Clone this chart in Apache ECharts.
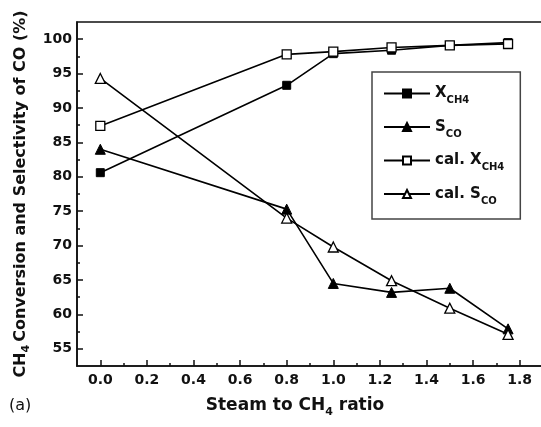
<!DOCTYPE html>
<html>
<head>
<meta charset="utf-8">
<script src="https://cdn.jsdelivr.net/npm/echarts@6/dist/echarts.min.js"></script>
<style>
  html, body { margin: 0; padding: 0; background: #fff; }
  #chart { width: 541px; height: 427px; }
</style>
</head>
<body>
<div id="chart"></div>
<script>
// steam to CH4 ratio (x)
var ratios = [0, 0.8, 1.0, 1.25, 1.5, 1.75];
// measured and calculated values (%)
var xCH4 = [80.6, 93.3, 97.9, 98.4, 99.1, 99.5];
var sCO = [84.0, 75.3, 64.5, 63.2, 63.8, 57.9];
var calXCH4 = [87.4, 97.8, 98.2, 98.8, 99.1, 99.3];
var calSCO = [94.3, 74.0, 69.8, 64.9, 60.9, 57.1];
// ticks
var xTicks = [0, 0.2, 0.4, 0.6, 0.8, 1.0, 1.2, 1.4, 1.6, 1.8];
var xMinorTicks = [0.1, 0.3, 0.5, 0.7, 0.9, 1.1, 1.3, 1.5, 1.7];
var yTicks = [55, 60, 65, 70, 75, 80, 85, 90, 95, 100];
var yMinorTicks = [57.5, 62.5, 67.5, 72.5, 77.5, 82.5, 87.5, 92.5, 97.5];

var FONT = 'DejaVu Sans';
var INK = '#111';

function pairs(ys) {
  return ys.map(function (y, i) { return [ratios[i], y]; });
}

// legend labels with subscripts
var legendText = {
  'X_CH4': '{m|X}{s|CH4}',
  'S_CO': '{m|S}{s|CO}',
  'cal. X_CH4': '{m|cal. X}{s|CH4}',
  'cal. S_CO': '{m|cal. S}{s|CO}'
};

var lineStyle = { color: '#000', width: 1.6 };
var filled = { color: '#000', borderColor: '#000', borderWidth: 1 };
var open = { color: '#fff', borderColor: '#000', borderWidth: 1.3 };

function mkSeries(name, ys, symbol, size, item) {
  return {
    name: name,
    type: 'line',
    data: pairs(ys),
    symbol: symbol,
    symbolSize: size,
    showAllSymbol: true,
    lineStyle: lineStyle,
    itemStyle: item,
    emphasis: { disabled: true },
    animation: false
  };
}

var chart = echarts.init(document.getElementById('chart'));
chart.setOption({
  backgroundColor: '#fff',
  animation: false,
  grid: {
    left: 77, top: 22, width: 466, height: 344,
    show: true, borderColor: '#111', borderWidth: 1.6,
    outerBoundsMode: 'none'
  },
  xAxis: [{
    type: 'value', min: -0.1, max: 1.9,
    splitLine: { show: false },
    axisLine: { onZero: false, lineStyle: { color: '#111', width: 1.6 } },
    axisTick: { inside: true, length: 6, customValues: xTicks, lineStyle: { color: '#111', width: 1.5 } },
    axisLabel: {
      customValues: xTicks, margin: 7,
      formatter: function (v) { return v.toFixed(1); },
      color: INK, fontFamily: FONT, fontWeight: 'bold', fontSize: 14
    },
    name: '{m|Steam to CH}{s|4}{m| ratio}',
    nameLocation: 'middle', nameGap: 28,
    nameTextStyle: {
      padding: [0, 30, 0, 0],
      rich: {
        m: { fontFamily: FONT, fontWeight: 'bold', fontSize: 17, color: INK, lineHeight: 24 },
        s: { fontFamily: FONT, fontWeight: 'bold', fontSize: 11, color: INK, lineHeight: 14, verticalAlign: 'bottom' }
      }
    }
  }, {
    type: 'value', min: -0.1, max: 1.9, position: 'bottom',
    splitLine: { show: false },
    axisLine: { show: false, onZero: false },
    axisLabel: { show: false },
    axisTick: { inside: true, length: 3, customValues: xMinorTicks, lineStyle: { color: '#111', width: 1.5 } }
  }],
  yAxis: [{
    type: 'value', min: 52.5, max: 102.5,
    splitLine: { show: false },
    axisLine: { onZero: false, lineStyle: { color: '#111', width: 1.6 } },
    axisTick: { inside: true, length: 6, customValues: yTicks, lineStyle: { color: '#111', width: 1.5 } },
    axisLabel: {
      customValues: yTicks, margin: 5,
      color: INK, fontFamily: FONT, fontWeight: 'bold', fontSize: 14
    },
    name: '{m|CH}{s|4}{m|Conversion and Selectivity of CO (%)}',
    nameLocation: 'middle', nameRotate: 90, nameGap: 44,
    nameTextStyle: {
      rich: {
        m: { fontFamily: FONT, fontWeight: 'bold', fontSize: 16, color: INK, lineHeight: 22 },
        s: { fontFamily: FONT, fontWeight: 'bold', fontSize: 11, color: INK, lineHeight: 13, verticalAlign: 'bottom', padding: [0, 3, 0, 0] }
      }
    }
  }, {
    type: 'value', min: 52.5, max: 102.5, position: 'left',
    splitLine: { show: false },
    axisLine: { show: false, onZero: false },
    axisLabel: { show: false },
    axisTick: { inside: true, length: 3, customValues: yMinorTicks, lineStyle: { color: '#111', width: 1.5 } }
  }],
  legend: {
    orient: 'vertical', left: 372, top: 72,
    padding: [14, 16, 13, 11], itemGap: 14,
    itemWidth: 46, itemHeight: 10,
    borderColor: '#444', borderWidth: 1.5,
    backgroundColor: '#fff',
    data: ['X_CH4', 'S_CO', 'cal. X_CH4', 'cal. S_CO'],
    formatter: function (n) { return legendText[n]; },
    textStyle: {
      rich: {
        m: { fontFamily: FONT, fontWeight: 'bold', fontSize: 15, color: INK, lineHeight: 24 },
        s: { fontFamily: FONT, fontWeight: 'bold', fontSize: 10, color: INK, lineHeight: 14, verticalAlign: 'bottom' }
      }
    }
  },
  graphic: [{
    type: 'text', left: 9, top: 398,
    style: { text: '(a)', fontFamily: FONT, fontSize: 16, fill: INK }
  }],
  series: [
    mkSeries('X_CH4', xCH4, 'rect', 8, filled),
    mkSeries('S_CO', sCO, 'triangle', 10, filled),
    mkSeries('cal. X_CH4', calXCH4, 'rect', 9, open),
    mkSeries('cal. S_CO', calSCO, 'triangle', 10, open)
  ]
});
</script>
</body>
</html>
